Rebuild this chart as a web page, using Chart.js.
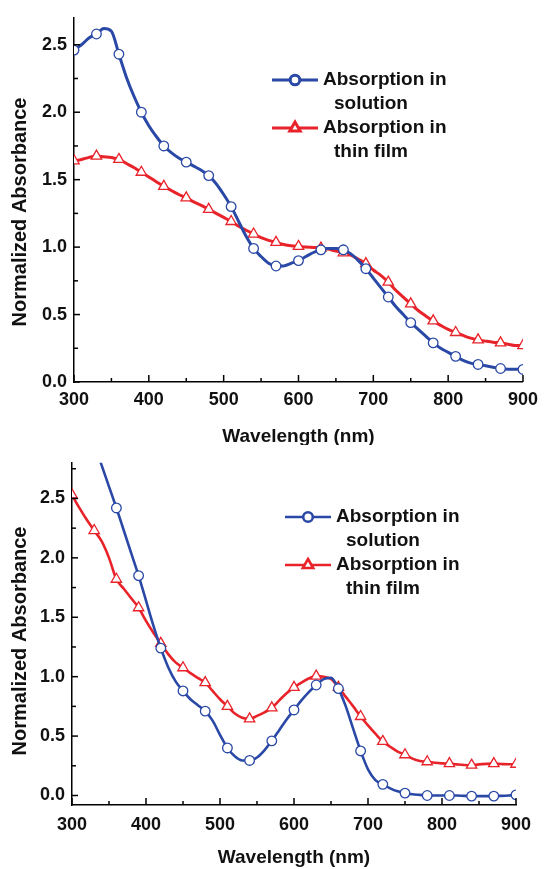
<!DOCTYPE html>
<html><head><meta charset="utf-8">
<style>
html,body{margin:0;padding:0;background:#fff;width:545px;height:869px;overflow:hidden}
canvas{position:absolute;left:0}
#c1{top:0}
#c2{top:445px}
</style>
<script src="https://cdn.jsdelivr.net/npm/chart.js@4"></script>
</head><body>
<canvas id="c1" width="545" height="445"></canvas>
<canvas id="c2" width="545" height="424"></canvas>
<script>
// ---------- data ----------
const seriesNames = ["Absorption in solution", "Absorption in thin film"];
const legendLines = [["Absorption in", "solution"], ["Absorption in", "thin film"]];
const xTitle = "Wavelength (nm)";
const yTitle = "Normalized Absorbance";

const xTickLabels = [300, 400, 500, 600, 700, 800, 900];
const xMinorTicks = [350, 450, 550, 650, 750, 850];
const yTickLabels = [0.0, 0.5, 1.0, 1.5, 2.0, 2.5];
const yMinorTicksTop = [0.25, 0.75, 1.25, 1.75, 2.25];
const yMinorTicksBottom = [0.25, 0.75, 1.25, 1.75, 2.25, 2.75];
const markerWavelengths = [300,330,360,390,420,450,480,510,540,570,600,630,660,690,720,750,780,810,840,870,900];

// Chart 1 (top)
const wl1 = [300,310,320,330,340,350,360,370,380,390,400,410,420,430,440,450,460,470,480,490,500,510,520,530,540,550,560,570,580,590,600,610,620,630,640,650,660,670,680,690,700,710,720,730,740,750,760,770,780,790,800,810,820,830,840,850,860,870,880,890,900];
const solution1 = [2.46,2.50,2.55,2.58,2.62,2.60,2.43,2.26,2.12,2.00,1.90,1.82,1.75,1.70,1.66,1.63,1.60,1.57,1.53,1.47,1.39,1.30,1.19,1.08,0.99,0.93,0.88,0.86,0.86,0.88,0.90,0.93,0.96,0.98,0.99,0.99,0.98,0.95,0.90,0.84,0.77,0.70,0.63,0.56,0.50,0.44,0.39,0.34,0.29,0.25,0.22,0.19,0.16,0.14,0.13,0.12,0.11,0.10,0.095,0.095,0.093];
const film1 = [1.64,1.65,1.665,1.675,1.67,1.665,1.65,1.62,1.59,1.555,1.52,1.485,1.45,1.42,1.39,1.365,1.335,1.31,1.28,1.25,1.22,1.19,1.155,1.125,1.097,1.07,1.05,1.035,1.02,1.01,1.005,1.0,0.997,0.993,0.985,0.97,0.958,0.94,0.91,0.878,0.83,0.79,0.74,0.68,0.63,0.579,0.53,0.49,0.453,0.42,0.39,0.367,0.345,0.325,0.312,0.303,0.295,0.29,0.28,0.27,0.27];

// Chart 2 (bottom)
const wl2sol = [330,340,350,360,370,380,390,400,410,420,430,440,450,460,470,480,490,500,510,520,530,540,550,560,570,580,590,600,610,620,630,640,650,660,670,680,690,700,710,720,730,740,750,760,770,780,790,800,810,820,830,840,850,860,870,880,890,900];
const solution2 = [2.96,2.78,2.60,2.42,2.23,2.04,1.85,1.64,1.43,1.24,1.08,0.96,0.88,0.81,0.76,0.71,0.63,0.51,0.40,0.33,0.295,0.295,0.32,0.38,0.46,0.55,0.64,0.72,0.80,0.87,0.93,0.98,0.99,0.90,0.75,0.56,0.375,0.22,0.13,0.094,0.06,0.035,0.02,0.01,0.005,0.0,0.0,0.0,0.0,0.0,-0.003,-0.005,-0.005,-0.005,-0.005,-0.003,0.0,0.005];
const wl2film = [300,310,320,330,340,350,360,370,380,390,400,410,420,430,440,450,460,470,480,490,500,510,520,530,540,550,560,570,580,590,600,610,620,630,640,650,660,670,680,690,700,710,720,730,740,750,760,770,780,790,800,810,820,830,840,850,860,870,880,890,900];
const film2 = [2.53,2.42,2.32,2.23,2.14,2.00,1.82,1.74,1.66,1.58,1.47,1.37,1.28,1.19,1.12,1.075,1.03,0.99,0.95,0.88,0.81,0.75,0.69,0.655,0.645,0.67,0.70,0.737,0.80,0.86,0.91,0.95,0.985,1.005,1.0,0.98,0.91,0.83,0.75,0.665,0.59,0.52,0.455,0.41,0.37,0.343,0.31,0.29,0.284,0.275,0.27,0.268,0.262,0.257,0.255,0.262,0.266,0.268,0.265,0.263,0.263];

// ---------- styles ----------
const BLUE = "#2a48a6";
const RED = "#e8232a";
const FONT = '"Liberation Sans", Arial, Helvetica, sans-serif';

function pts(xs, ys){ return xs.map((x,i)=>({x:x, y:ys[i]})); }

const decor = {
  id: 'decor',
  afterDraw(chart, args, o) {
    const {ctx, chartArea: a, scales: {x, y}} = chart;
    ctx.save();
    ctx.strokeStyle = '#000';
    ctx.lineWidth = 1.5;
    const seg = (x0,y0,x1,y1)=>{ctx.beginPath();ctx.moveTo(x0,y0);ctx.lineTo(x1,y1);ctx.stroke();};
    xTickLabels.forEach(v=>{const p=x.getPixelForValue(v); seg(p,a.bottom,p,a.bottom-7);});
    xMinorTicks.forEach(v=>{const p=x.getPixelForValue(v); seg(p,a.bottom,p,a.bottom-4);});
    yTickLabels.forEach(v=>{const p=y.getPixelForValue(v); seg(a.left,p,a.left+6,p);});
    o.yMinor.forEach(v=>{const p=y.getPixelForValue(v); seg(a.left,p,a.left+4,p);});

    ctx.fillStyle = '#111';
    ctx.textBaseline = 'middle';
    ctx.textAlign = 'center';
    ctx.font = 'bold 19px ' + FONT;
    ctx.fillText(xTitle, (a.left + a.right)/2, o.xTitleY);
    ctx.save();
    ctx.translate(o.yTitleX, o.yTitleY);
    ctx.rotate(-Math.PI/2);
    ctx.font = 'bold 20px ' + FONT;
    ctx.fillText(yTitle, 0, 0);
    ctx.restore();

    // legend
    const L = o.legend;
    chart.data.datasets.forEach((ds, i)=>{
      const yy = L.y0 + i * L.itemStep;
      ctx.strokeStyle = ds.borderColor;
      ctx.lineWidth = ds.borderWidth;
      seg(L.x0, yy, L.x1, yy);
      ctx.fillStyle = '#fff';
      ctx.strokeStyle = ds.borderColor;
      Chart.helpers.drawPoint(ctx, {pointStyle: ds.pointStyle, radius: ds.legendRadius, borderWidth: ds.pointBorderWidth, rotation: 0}, L.mx, yy);
      ctx.fillStyle = '#111';
      ctx.textAlign = 'left';
      ctx.font = 'bold 19px ' + FONT;
      legendLines[i].forEach((t, j)=>{
        ctx.fillText(t, L.tx + (j ? L.indent : 0), yy + j * L.lineStep);
      });
    });
    ctx.restore();
  }
};

function makeChart(id, cfg) {
  const sol = {
    label: seriesNames[0], data: pts(cfg.solX, cfg.solY),
    borderColor: BLUE, borderWidth: cfg.lw, backgroundColor: '#fff',
    pointStyle: 'circle', pointBackgroundColor: '#fff', pointBorderColor: BLUE, pointBorderWidth: 1.3,
    pointRadius: c => markerWavelengths.includes(c.raw.x) ? 4.8 : 0,
    legendRadius: 4.8,
    cubicInterpolationMode: 'monotone', clip: 0
  };
  const film = {
    label: seriesNames[1], data: pts(cfg.filmX, cfg.filmY),
    borderColor: RED, borderWidth: cfg.lw, backgroundColor: '#fff',
    pointStyle: 'triangle', pointBackgroundColor: '#fff', pointBorderColor: RED, pointBorderWidth: 1.3,
    pointRadius: c => markerWavelengths.includes(c.raw.x) ? 6 : 0,
    legendRadius: 6,
    cubicInterpolationMode: 'monotone', clip: 0
  };
  const tickFont = {family: FONT, size: 18, weight: 'bold'};
  return new Chart(document.getElementById(id), {
    type: 'line',
    data: {datasets: [sol, film]},
    options: {
      responsive: false, animation: false, devicePixelRatio: 1,
      layout: {autoPadding: false, padding: {left: 0, right: cfg.padRight, top: cfg.padTop, bottom: 0}},
      plugins: {legend: {display: false}, tooltip: {enabled: false}, decor: cfg.decor},
      elements: {point: {hitRadius: 0, hoverRadius: 0}},
      scales: {
        x: {
          type: 'linear', min: 300, max: 900,
          grid: {display: false, drawTicks: false},
          border: {display: true, color: '#000', width: 1.5},
          afterBuildTicks: s => { s.ticks = xTickLabels.map(v=>({value: v})); },
          afterFit: s => { s.height = cfg.xH; },
          ticks: {font: tickFont, color: '#111', padding: cfg.xPad, maxRotation: 0, autoSkip: false, callback: v => String(v)}
        },
        y: {
          type: 'linear', min: cfg.yMin, max: cfg.yMax,
          grid: {display: false, drawTicks: false},
          border: {display: true, color: '#000', width: 1.5},
          afterBuildTicks: s => { s.ticks = yTickLabels.map(v=>({value: v})); },
          afterFit: s => { s.width = cfg.yW; },
          ticks: {font: tickFont, color: '#111', padding: 7, autoSkip: false, callback: v => Number(v).toFixed(1)}
        }
      }
    },
    plugins: [decor]
  });
}

makeChart('c1', {
  solX: wl1, solY: solution1, filmX: wl1, filmY: film1, lw: 3,
  yMin: 0, yMax: 2.7, padRight: 15, padTop: 13, xH: 63, yW: 74, xPad: 7,
  decor: {yMinor: yMinorTicksTop, xTitleY: 437, yTitleX: 20, yTitleY: 212,
    legend: {x0: 272, x1: 318, mx: 295, tx: 323, indent: 11, y0: 80, lineStep: 24, itemStep: 48}}
});
makeChart('c2', {
  solX: wl2sol, solY: solution2, filmX: wl2film, filmY: film2, lw: 2.6,
  yMin: -0.08, yMax: 2.8, padRight: 29, padTop: 3, xH: 64, yW: 72, xPad: 9,
  decor: {yMinor: yMinorTicksBottom, xTitleY: 413, yTitleX: 20, yTitleY: 196,
    legend: {x0: 285, x1: 331, mx: 308, tx: 336, indent: 10, y0: 72, lineStep: 24, itemStep: 48}}
});
</script>
</body></html>
